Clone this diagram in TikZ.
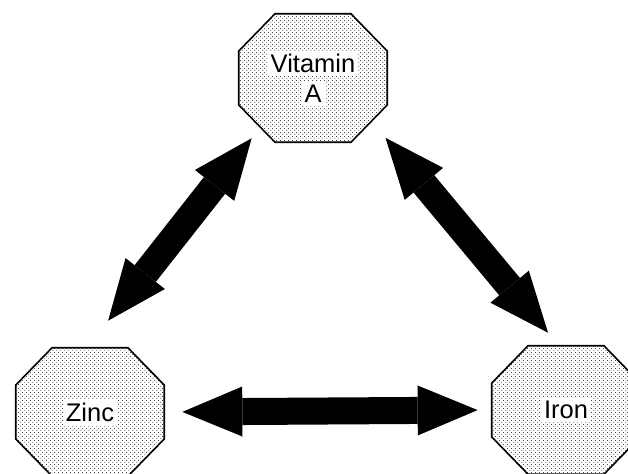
\documentclass[tikz,border=0pt]{standalone}
\usepackage{fontspec}
\setmainfont{Liberation Sans}
\usetikzlibrary{positioning, arrows.meta, patterns.meta}

\tikzdeclarepattern{
  name=stipple,
  type=uncolored,
  tile size={(2.3pt,2.3pt)},
  bounding box={(0pt,0pt) and (2.3pt,2.3pt)},
  code={\fill (0.575pt,0.575pt) circle (0.32pt);
        \fill (1.725pt,1.725pt) circle (0.32pt);}
}
\newcommand{\clearbox}[1]{{\setlength{\fboxsep}{1.8pt}\colorbox{white}{#1}}}

\begin{document}
\begin{tikzpicture}[
          x=0.2mm, y=-0.2mm,
          oct/.style={minimum width=30mm, minimum height=26mm, inner sep=0pt,
                      align=center, font=\fontsize{14.5}{17}\selectfont,
                      path picture={
                        \draw[line width=0.9pt, pattern=stipple, pattern color=black]
                          ([xshift=7.4mm, yshift=-0.45pt]path picture bounding box.north west)
                          -- ([xshift=-7.4mm, yshift=-0.45pt]path picture bounding box.north east)
                          -- ([xshift=-0.45pt, yshift=-7.6mm]path picture bounding box.north east)
                          -- ([xshift=-0.45pt, yshift=7.6mm]path picture bounding box.south east)
                          -- ([xshift=-7.4mm, yshift=0.45pt]path picture bounding box.south east)
                          -- ([xshift=7.4mm, yshift=0.45pt]path picture bounding box.south west)
                          -- ([xshift=0.45pt, yshift=7.6mm]path picture bounding box.south west)
                          -- ([xshift=0.45pt, yshift=-7.6mm]path picture bounding box.north west)
                          -- cycle;
                      }},
          dbl/.style={{Triangle[length=12mm,width=10mm,line width=0pt]}-{Triangle[length=12mm,width=10mm,line width=0pt]},
                      line width=5.4mm}
        ]
        \useasboundingbox (0,0) rectangle (628,474);

        \node[oct] (vita) at (313,78) {\clearbox{Vitamin}\\\clearbox{A}};
        \node[oct] (zinc) at (90,412) {\clearbox{Zinc}};
        \node[oct] (iron) at (566,410) {\clearbox{Iron}};

        % two-way links between the three nutrients
        \draw[dbl, shorten <=6.6mm, shorten >=-1.3mm] (zinc.92) -- (vita.225);
        \draw[dbl, shorten <=-0.9mm, shorten >=3.1mm] (vita.320) -- (iron.97);
        \draw[dbl, shorten <=3.4mm, shorten >=2.6mm] (zinc.east) -- (iron.west);
      \end{tikzpicture}
\end{document}
